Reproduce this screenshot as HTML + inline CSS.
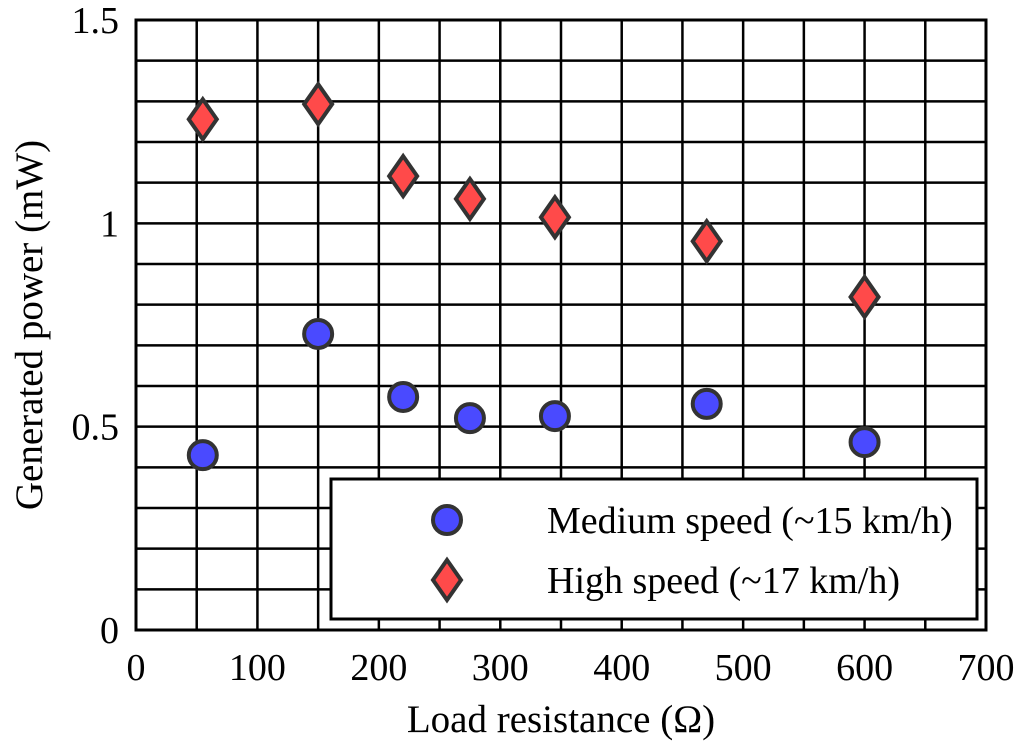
<!DOCTYPE html>
<html><head><meta charset="utf-8">
<style>
html,body{margin:0;padding:0;background:#fff;}
svg{display:block;font-family:"Liberation Serif",serif;}
</style></head>
<body>
<svg id="chart" width="1024" height="744"></svg>
<script>
const categories=[55,150,220,275,345,470,600];
const mediumSpeed=[0.43,0.728,0.573,0.521,0.526,0.556,0.462];
const highSpeed=[1.256,1.293,1.116,1.06,1.015,0.956,0.819];
const xTicks=[0,100,200,300,400,500,600,700];
const yTicks=[0,0.5,1,1.5];
const yTickLabels=["0","0.5","1","1.5"];

const NS="http://www.w3.org/2000/svg";
const svg=document.getElementById('chart');
const L=136,R=986,T=20,B=630;
const xs=v=>L+(v/700)*(R-L);
const ys=v=>B-(v/1.5)*(B-T);
function mk(tag,attrs,parent){const e=document.createElementNS(NS,tag);for(const k in attrs)e.setAttribute(k,attrs[k]);(parent||svg).appendChild(e);return e;}

const grid=mk('g',{});


for(let v=50;v<700;v+=50){const l=mk('line',{x1:xs(v),x2:xs(v),y1:T,y2:B,stroke:'#000','stroke-width':2.5},grid);

}
for(let i=1;i<15;i++){const v=i/10;const l=mk('line',{x1:L,x2:R,y1:ys(v),y2:ys(v),stroke:'#000','stroke-width':2.5},grid);

}
const frame=mk('rect',{x:L,y:T,width:R-L,height:B-T,fill:'none',stroke:'#000','stroke-width':3});



xTicks.forEach(v=>{const t=mk('text',{x:xs(v),y:680,'text-anchor':'middle','font-size':38});t.textContent=v;

});
yTicks.forEach((v,i)=>{const t=mk('text',{x:119,y:ys(v)+13,'text-anchor':'end','font-size':38});t.textContent=yTickLabels[i];

});
const xt=mk('text',{x:561,y:732,'text-anchor':'middle','font-size':39});xt.textContent='Load resistance (Ω)';


const yt=mk('text',{x:0,y:0,'text-anchor':'middle','font-size':39,transform:'translate(42,325) rotate(-90)'});yt.textContent='Generated power (mW)';



function circle(cx,cy,g){return mk('circle',{cx:cx,cy:cy,r:14,fill:'#4a4aff',stroke:'#333','stroke-width':4},g);}
function diamond(cx,cy,g){return mk('polygon',{points:`${cx},${cy-20} ${cx+14},${cy} ${cx},${cy+20} ${cx-14},${cy}`,fill:'#ff4a4a',stroke:'#333','stroke-width':4,'stroke-linejoin':'miter'},g);}

categories.forEach((c,i)=>{
 const d=diamond(xs(c),ys(highSpeed[i]));
 
 
 const p=circle(xs(c),ys(mediumSpeed[i]));
 
 
});

const lg=mk('g',{});


mk('rect',{x:331,y:479,width:646,height:140,fill:'#fff',stroke:'#000','stroke-width':3},lg);
const c1=circle(447,520,lg);


const d1=diamond(447,580,lg);


const t1=mk('text',{x:547,y:533,'font-size':38},lg);t1.textContent='Medium speed (~15 km/h)';


const t2=mk('text',{x:547,y:593,'font-size':38},lg);t2.textContent='High speed (~17 km/h)';


</script>
</body></html>
